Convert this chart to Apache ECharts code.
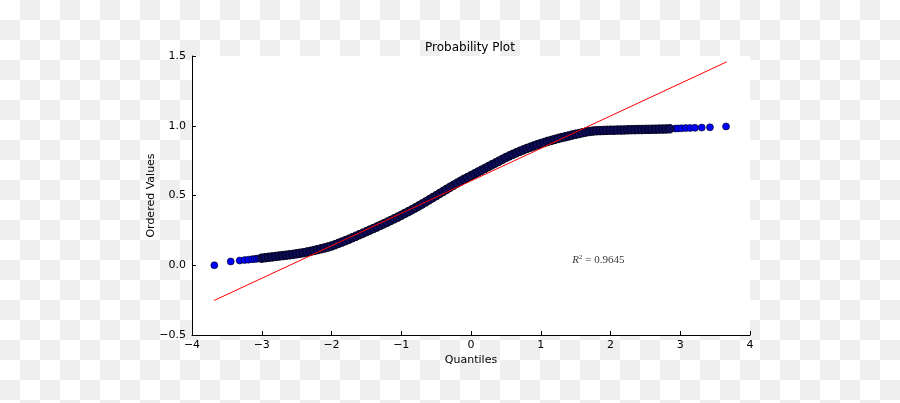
<!DOCTYPE html>
<html>
<head>
<meta charset="utf-8">
<script src="https://cdn.jsdelivr.net/npm/echarts@6/dist/echarts.min.js"></script>
<style>
html,body{margin:0;padding:0;width:900px;height:403px;overflow:hidden;
background:repeating-conic-gradient(#efefef 0 25%, #ffffff 0 50%) 0 0/40px 40px;}
#chart{width:900px;height:403px;}
</style>
</head>
<body>
<div id="chart"></div>
<script>
// ---- data ----
const titleText = 'Probability Plot';
const xAxisName = 'Quantiles';
const yAxisName = 'Ordered Values';
const xTickValues = [-4, -3, -2, -1, 0, 1, 2, 3, 4];
const yTickValues = [-0.5, 0.0, 0.5, 1.0, 1.5];

// isolated tail points
const tailQuantiles = [-3.68, -3.445, -3.316, -3.245, -3.19, -3.14, -3.10, -3.07, -3.04,
                       2.93, 2.97, 3.02, 3.078, 3.14, 3.21, 3.308, 3.426, 3.656];
const tailValues    = [0.000, 0.027, 0.034, 0.037, 0.040, 0.043, 0.045, 0.047, 0.049,
                       0.980, 0.981, 0.982, 0.983, 0.984, 0.985, 0.987, 0.989, 0.995];

// dense band of ordered values
const bandQuantiles = [
 -3.00,-2.95,-2.90,-2.85,-2.80,-2.75,-2.70,-2.65,-2.60,-2.55,-2.50,-2.45,-2.40,-2.35,-2.30,-2.25,-2.20,-2.15,
 -2.10,-2.05,-2.00,-1.95,-1.90,-1.85,-1.80,-1.75,-1.70,-1.65,-1.60,-1.55,-1.50,-1.45,-1.40,-1.35,-1.30,-1.25,-1.20,-1.15,
 -1.10,-1.05,-1.00,-0.95,-0.90,-0.85,-0.80,-0.75,-0.70,-0.65,-0.60,-0.55,-0.50,-0.45,-0.40,-0.35,-0.30,-0.25,-0.20,-0.15,
 -0.10,-0.05,0.00,0.05,0.10,0.15,0.20,0.25,0.30,0.35,0.40,0.45,0.50,0.55,0.60,0.65,0.70,0.75,0.80,0.85,
 0.90,0.95,1.00,1.05,1.10,1.15,1.20,1.25,1.30,1.35,1.40,1.45,1.50,1.55,1.60,1.65,1.70,1.75,1.80,1.85,
 1.90,1.95,2.00,2.05,2.10,2.15,2.20,2.25,2.30,2.35,2.40,2.45,2.50,2.55,2.60,2.65,2.70,2.75,2.80,2.85
];
const bandValues = [
 0.051,0.054,0.057,0.060,0.063,0.066,0.069,0.072,0.075,0.078,0.082,0.086,0.090,0.095,0.100,0.106,0.112,0.118,
 0.124,0.131,0.138,0.147,0.157,0.166,0.176,0.186,0.197,0.208,0.219,0.230,0.241,0.252,0.263,0.274,0.286,0.297,0.309,0.321,
 0.333,0.345,0.358,0.371,0.384,0.397,0.411,0.425,0.439,0.454,0.469,0.484,0.499,0.514,0.529,0.544,0.559,0.574,0.588,0.602,
 0.616,0.629,0.642,0.655,0.668,0.681,0.694,0.707,0.720,0.733,0.746,0.759,0.772,0.784,0.795,0.806,0.817,0.827,0.837,0.846,
 0.855,0.864,0.872,0.880,0.888,0.895,0.902,0.909,0.915,0.921,0.927,0.933,0.939,0.944,0.950,0.955,0.959,0.962,0.964,0.965,
 0.966,0.967,0.968,0.968,0.969,0.969,0.970,0.971,0.972,0.972,0.973,0.973,0.974,0.974,0.975,0.975,0.976,0.976,0.977,0.978
];

// least-squares fit line endpoints
const fitQuantiles = [-3.685, 3.666];
const fitValues    = [-0.253, 1.458];

// annotation
const rSquared = '0.9645';
const rSquaredAnchor = [1.46, 0.035];

// ---- build chart ----
const zip = (a, b) => a.map((v, i) => [v, b[i]]);
const fmt = (v, digits) => {
  const s = Math.abs(v).toFixed(digits);
  return v < 0 ? '\u2212' + s : s;
};

const chart = echarts.init(document.getElementById('chart'), null, {renderer: 'canvas'});
const baseFont = 'DejaVu Sans';

chart.setOption({
  animation: false,
  backgroundColor: 'transparent',
  title: {
    text: titleText,
    left: 420, top: 37,
    textStyle: {fontFamily: baseFont, fontSize: 12, fontWeight: 'normal', color: '#000'}
  },
  grid: {
    left: 192, right: 150, top: 56, bottom: 68,
    show: true, backgroundColor: '#ffffff', borderWidth: 0
  },
  xAxis: {
    type: 'value',
    min: xTickValues[0], max: xTickValues[xTickValues.length - 1], interval: 1,
    name: xAxisName, nameLocation: 'middle', nameGap: 20, nameMoveOverlap: false,
    nameTextStyle: {fontFamily: baseFont, fontSize: 11, color: '#000'},
    axisLine: {show: true, onZero: false, lineStyle: {color: '#000', width: 1}},
    axisTick: {show: true, inside: true, length: 4, lineStyle: {color: '#000'}},
    axisLabel: {margin: 5, fontFamily: baseFont, fontSize: 11, color: '#000',
                formatter: v => fmt(v, 0)},
    splitLine: {show: false}
  },
  yAxis: {
    type: 'value',
    min: yTickValues[0], max: yTickValues[yTickValues.length - 1], interval: 0.5,
    name: yAxisName, nameLocation: 'middle', nameGap: 35, nameRotate: 90, nameMoveOverlap: false,
    nameTextStyle: {fontFamily: baseFont, fontSize: 11, color: '#000'},
    axisLine: {show: true, onZero: false, lineStyle: {color: '#000', width: 1}},
    axisTick: {show: true, inside: true, length: 4, lineStyle: {color: '#000'}},
    axisLabel: {margin: 6, fontFamily: baseFont, fontSize: 11, color: '#000',
                formatter: v => fmt(v, 1)},
    splitLine: {show: false}
  },
  series: [
    {
      type: 'scatter', name: 'tails',
      data: zip(tailQuantiles, tailValues),
      symbol: 'circle', symbolSize: 7,
      itemStyle: {color: '#0000ff', borderColor: '#000000', borderWidth: 0.6, opacity: 1},
      z: 2
    },
    {
      type: 'scatter', name: 'band',
      data: zip(bandQuantiles, bandValues),
      symbol: 'circle', symbolSize: 8.5,
      itemStyle: {color: '#0c0c5a', borderColor: '#000018', borderWidth: 1, opacity: 1},
      z: 2
    },
    {
      type: 'line', name: 'fit',
      data: zip(fitQuantiles, fitValues),
      symbol: 'none',
      lineStyle: {color: '#ff0000', width: 1},
      z: 3
    },
    {
      type: 'scatter', name: 'r2',
      data: [rSquaredAnchor],
      symbolSize: 1,
      itemStyle: {color: 'rgba(0,0,0,0)'},
      label: {
        show: true, position: [0, 0], align: 'left', verticalAlign: 'middle',
        formatter: '{r|R}{s|2}{t| = ' + rSquared + '}',
        rich: {
          r: {fontFamily: 'Liberation Serif', fontStyle: 'italic', fontSize: 11, color: '#000'},
          s: {fontFamily: 'Liberation Serif', fontSize: 7, color: '#000', padding: [0, 0, 6, 0]},
          t: {fontFamily: 'Liberation Serif', fontSize: 11, color: '#000'}
        }
      },
      silent: true,
      z: 4
    }
  ]
});
</script>
</body>
</html>
